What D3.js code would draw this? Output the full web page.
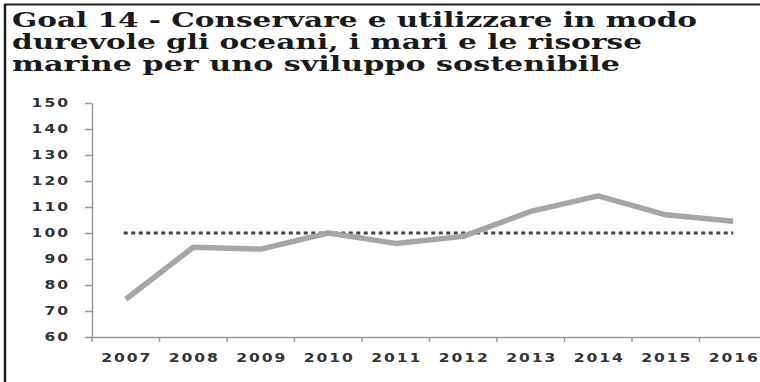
<!DOCTYPE html>
<html>
<head>
<meta charset="utf-8">
<script src="https://cdn.jsdelivr.net/npm/d3@7"></script>
<style>
  body { margin: 0; background: #fff; }
  svg { display: block; }
  .tick text { font-family: "DejaVu Sans", sans-serif; font-weight: bold; fill: #333; }
</style>
</head>
<body>
<div id="chart"></div>
<script>
const titleLines = [
  'Goal 14 - Conservare e utilizzare in modo',
  'durevole gli oceani, i mari e le risorse',
  'marine per uno sviluppo sostenibile'
];
const years = ['2007', '2008', '2009', '2010', '2011', '2012', '2013', '2014', '2015', '2016'];
const values = [74.5, 94.5, 93.8, 100, 96, 98.7, 108.3, 114.3, 107, 104.5];
const baseline = 100;
const yTicks = [60, 70, 80, 90, 100, 110, 120, 130, 140, 150];

let width = 760, height = 382,
    margin = {top: 103, left: 92, bottom: 45, right: -7};

let svg = d3.select('#chart').append('svg')
    .attr('width', width)
    .attr('height', height);

// frame
svg.append('line')
    .attr('x1', 4).attr('x2', width).attr('y1', 4.5).attr('y2', 4.5)
    .attr('stroke', '#222').attr('stroke-width', 2);
svg.append('line')
    .attr('x1', 5).attr('x2', 5).attr('y1', 4).attr('y2', height)
    .attr('stroke', '#222').attr('stroke-width', 2.5);

// title
let titleWidths = [685, 630, 608];
svg.append('g')
    .selectAll('text')
    .data(titleLines)
    .join('text')
    .attr('x', 12)
    .attr('y', (d, i) => 27 + i * 22)
    .attr('textLength', (d, i) => titleWidths[i])
    .attr('lengthAdjust', 'spacingAndGlyphs')
    .attr('font-family', '"DejaVu Serif", serif')
    .attr('font-weight', 'bold')
    .attr('font-size', 20)
    .attr('fill', '#1a1a1a')
    .text(d => d);

let xScale = d3.scaleBand()
    .domain(years)
    .range([margin.left, width - margin.right]);

let yScale = d3.scaleLinear()
    .domain([60, 150])
    .range([height - margin.bottom, margin.top]);

// wide tick lettering like the original
let stretch = 1.3;

// y axis
let yAxis = svg.append('g')
    .attr('transform', `translate(${margin.left}, 0)`)
    .call(d3.axisLeft(yScale).tickValues(yTicks).tickSize(7).tickSizeOuter(0));
yAxis.selectAll('path, line').attr('stroke', '#999').attr('stroke-width', 1.5);
yAxis.selectAll('text')
    .attr('font-size', 12)
    .attr('letter-spacing', 1.5)
    .attr('x', 0)
    .attr('transform', `translate(-22, 0) scale(${stretch}, 1)`);

// x axis (labels centred, ticks on band edges)
let xAxis = svg.append('g')
    .attr('transform', `translate(0, ${yScale(60)})`)
    .call(d3.axisBottom(xScale).tickSize(0).tickPadding(16).tickSizeOuter(0));
xAxis.select('.domain').attr('stroke', '#999').attr('stroke-width', 1.5);
xAxis.selectAll('text')
    .attr('font-size', 12)
    .attr('letter-spacing', 1.5)
    .attr('x', 0.75)
    .attr('transform', `scale(${stretch}, 1)`);
xAxis.selectAll('.edge')
    .data(years)
    .join('line')
    .attr('class', 'edge')
    .attr('x1', d => xScale(d)).attr('x2', d => xScale(d))
    .attr('y1', 0).attr('y2', 5)
    .attr('stroke', '#999').attr('stroke-width', 1.5);

// reference line at 100
svg.append('line')
    .attr('x1', xScale(years[0]) + xScale.bandwidth() / 2 - 2)
    .attr('x2', xScale(years[years.length - 1]) + xScale.bandwidth() / 2)
    .attr('y1', yScale(baseline)).attr('y2', yScale(baseline))
    .attr('stroke', '#444')
    .attr('stroke-width', 3)
    .attr('stroke-dasharray', '4,3.5');

// series
let line = d3.line()
    .x((d, i) => xScale(years[i]) + xScale.bandwidth() / 2)
    .y(d => yScale(d));

svg.append('path')
    .datum(values)
    .attr('d', line)
    .attr('fill', 'none')
    .attr('stroke', '#a6a6a6')
    .attr('stroke-width', 5.5)
    .attr('stroke-linejoin', 'round');
</script>
</body>
</html>
